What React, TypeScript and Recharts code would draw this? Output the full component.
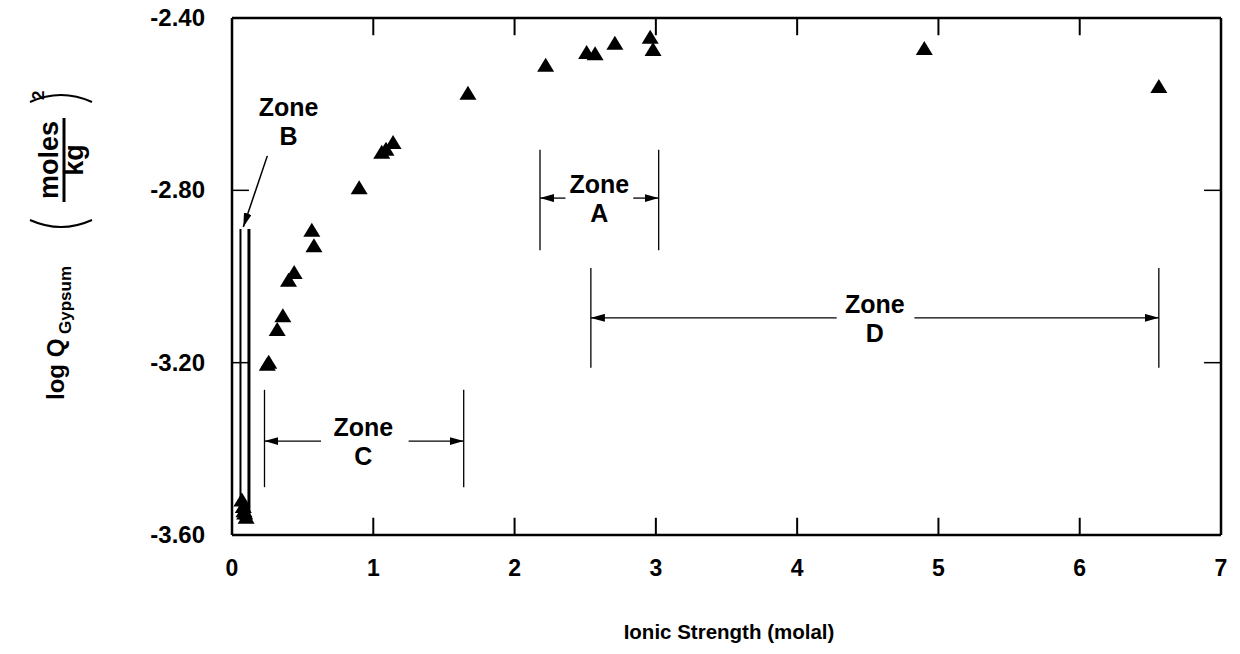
import { ScatterChart, Scatter, XAxis, YAxis, ReferenceLine, ReferenceDot } from "recharts";

// Ionic strength (molal) vs log Q gypsum
const ionicStrength = [0.07, 0.08, 0.09, 0.1, 0.085, 0.25, 0.26, 0.32, 0.36, 0.4, 0.44, 0.565, 0.58, 0.9, 1.06, 1.09, 1.14, 1.67, 2.22, 2.51, 2.57, 2.71, 2.96, 2.98, 4.9, 6.56];
const logQ = [-3.52, -3.535, -3.55, -3.56, -3.545, -3.205, -3.2, -3.124, -3.092, -3.01, -2.992, -2.894, -2.93, -2.795, -2.713, -2.706, -2.69, -2.576, -2.511, -2.481, -2.484, -2.46, -2.446, -2.474, -2.472, -2.56];

const xTicks = [0, 1, 2, 3, 4, 5, 6, 7];
const yTicks = [-3.6, -3.2, -2.8, -2.4];
const innerXTicks = [1, 2, 3, 4, 5, 6];
const innerYTicks = [-3.2, -2.8];

// zone brackets
const zoneNames = ["A", "B", "C", "D"];
const zoneLeft = [2.18, 0.06, 0.23, 2.54];
const zoneRight = [3.02, 0.12, 1.64, 6.56];
const zoneLow = [-2.939, -3.565, -3.489, -3.212];
const zoneHigh = [-2.706, -2.89, -3.263, -2.98];
const zoneArrowY = [-2.818, 0, -3.382, -3.096];
const zoneGapLeft = [2.36, 0, 0.63, 4.28];
const zoneGapRight = [2.84, 0, 1.25, 4.83];
const zoneTextX = [2.6, 0.4, 0.93, 4.55];
const zoneTextY = [-2.818, -2.64, -3.382, -3.096];

const X_MIN = 0;
const X_MAX = 7;
const Y_MIN = -3.6;
const Y_MAX = -2.4;
const TICK_DX = 0.12;
const TICK_DY = 0.04;

const FONT = "'Liberation Sans', Arial, sans-serif";

const data = ionicStrength.map((x, i) => ({ x, y: logQ[i] }));

const Triangle = (p: any) => {
  const { cx, cy } = p;
  return <polygon points={`${cx},${cy - 8} ${cx - 8.5},${cy + 6} ${cx + 8.5},${cy + 6}`} fill="#000" />;
};

const seg = (w: number, end?: boolean) => (p: any) => (
  <line
    x1={p.x1}
    y1={p.y1}
    x2={p.x2}
    y2={p.y2}
    stroke="#000"
    strokeWidth={w}
    markerEnd={end ? "url(#arrowHead)" : undefined}
  />
);

const ZoneText = (name: string) => (p: any) => (
  <text x={p.cx} y={p.cy} textAnchor="middle" fontFamily={FONT} fontWeight="bold" fontSize={25} fill="#000">
    <tspan x={p.cx} dy={-5}>Zone</tspan>
    <tspan x={p.cx} dy={29}>{name}</tspan>
  </text>
);

const BottomTick = (p: any) => (
  <text x={p.x} y={p.y + 41} textAnchor="middle" fontFamily={FONT} fontWeight="bold" fontSize={23} fill="#000">
    {p.payload.value}
  </text>
);

const LeftTick = (p: any) => (
  <text x={p.x - 27} y={p.y + 8} textAnchor="end" fontFamily={FONT} fontWeight="bold" fontSize={24} fill="#000">
    {Number(p.payload.value).toFixed(2)}
  </text>
);

const YTitle = () => (
  <g transform="translate(64,400) rotate(-90)" fontFamily={FONT} fontWeight="bold" fill="#000">
    <text x={0} y={0} fontSize={24}>log Q</text>
    <text x={66} y={7} fontSize={17}>Gypsum</text>
    <path d="M 180 -34 Q 166 -3 180 28" fill="none" stroke="#000" strokeWidth={2} />
    <text x={240} y={-6} fontSize={27} textAnchor="middle">moles</text>
    <line x1={198} x2={282} y1={0} y2={0} stroke="#000" strokeWidth={3} />
    <text x={240} y={19} fontSize={27} textAnchor="middle">kg</text>
    <path d="M 298 -34 Q 312 -3 298 28" fill="none" stroke="#000" strokeWidth={2} />
    <text x={300} y={-20} fontSize={17}>2</text>
  </g>
);

const XTitle = () => (
  <text x={729} y={639} textAnchor="middle" fontFamily={FONT} fontWeight="bold" fontSize={20.5} fill="#000">
    Ionic Strength (molal)
  </text>
);

export default function App() {
  return (
    <div style={{ position: "absolute", left: 0, top: 0, background: "#fff" }}>
      <svg width={0} height={0} style={{ position: "absolute" }}>
        <defs>
          <marker id="arrowHead" viewBox="0 0 14 8" refX={14} refY={4} markerWidth={14} markerHeight={8} markerUnits="userSpaceOnUse" orient="auto">
            <path d="M0,0 L14,4 L0,8 z" fill="#000" />
          </marker>
        </defs>
      </svg>
      <ScatterChart width={1240} height={654} margin={{ top: 18, right: 19, bottom: 0, left: 0 }}>
        <XAxis
          type="number"
          dataKey="x"
          domain={[X_MIN, X_MAX]}
          ticks={xTicks}
          interval={0}
          height={119}
          tickSize={0}
          tickMargin={0}
          tickLine={false}
          axisLine={{ stroke: "#000", strokeWidth: 2.5 }}
          tick={BottomTick}
          label={{ content: XTitle }}
        />
        <YAxis
          type="number"
          dataKey="y"
          domain={[Y_MIN, Y_MAX]}
          ticks={yTicks}
          interval={0}
          width={232}
          tickSize={0}
          tickMargin={0}
          tickLine={false}
          axisLine={{ stroke: "#000", strokeWidth: 2.5 }}
          tick={LeftTick}
          label={{ content: YTitle }}
        />

        {/* top and right frame */}
        <ReferenceLine segment={[{ x: X_MIN, y: Y_MAX }, { x: X_MAX, y: Y_MAX }]} shape={seg(2.5)} />
        <ReferenceLine segment={[{ x: X_MAX, y: Y_MIN }, { x: X_MAX, y: Y_MAX }]} shape={seg(2.5)} />

        {/* inward ticks */}
        {innerXTicks.map((t) => (
          <ReferenceLine key={`bt${t}`} segment={[{ x: t, y: Y_MIN }, { x: t, y: Y_MIN + TICK_DY }]} shape={seg(2)} />
        ))}
        {innerXTicks.map((t) => (
          <ReferenceLine key={`tt${t}`} segment={[{ x: t, y: Y_MAX }, { x: t, y: Y_MAX - TICK_DY }]} shape={seg(2)} />
        ))}
        {innerYTicks.map((t) => (
          <ReferenceLine key={`lt${t}`} segment={[{ x: X_MIN, y: t }, { x: X_MIN + TICK_DX, y: t }]} shape={seg(1.5)} />
        ))}
        {innerYTicks.map((t) => (
          <ReferenceLine key={`rt${t}`} segment={[{ x: X_MAX, y: t }, { x: X_MAX - TICK_DX, y: t }]} shape={seg(1.5)} />
        ))}

        {zoneNames.map((name, i) => [
          <ReferenceLine
            key={`l${name}`}
            segment={[{ x: zoneLeft[i], y: zoneLow[i] }, { x: zoneLeft[i], y: zoneHigh[i] }]}
            shape={seg(name === "B" ? 2 : 1.3)}
          />,
          <ReferenceLine
            key={`r${name}`}
            segment={[{ x: zoneRight[i], y: zoneLow[i] }, { x: zoneRight[i], y: zoneHigh[i] }]}
            shape={seg(name === "B" ? 3 : 1.3)}
          />,
          name !== "B" && (
            <ReferenceLine
              key={`al${name}`}
              segment={[{ x: zoneGapLeft[i], y: zoneArrowY[i] }, { x: zoneLeft[i], y: zoneArrowY[i] }]}
              shape={seg(1.3, true)}
            />
          ),
          name !== "B" && (
            <ReferenceLine
              key={`ar${name}`}
              segment={[{ x: zoneGapRight[i], y: zoneArrowY[i] }, { x: zoneRight[i], y: zoneArrowY[i] }]}
              shape={seg(1.3, true)}
            />
          ),
          <ReferenceDot key={`t${name}`} x={zoneTextX[i]} y={zoneTextY[i]} r={0} shape={ZoneText(name)} />,
        ])}
        <ReferenceLine segment={[{ x: 0.25, y: -2.72 }, { x: 0.08, y: -2.885 }]} shape={seg(1.5, true)} />

        <Scatter data={data} shape={Triangle} isAnimationActive={false} />
      </ScatterChart>
    </div>
  );
}
